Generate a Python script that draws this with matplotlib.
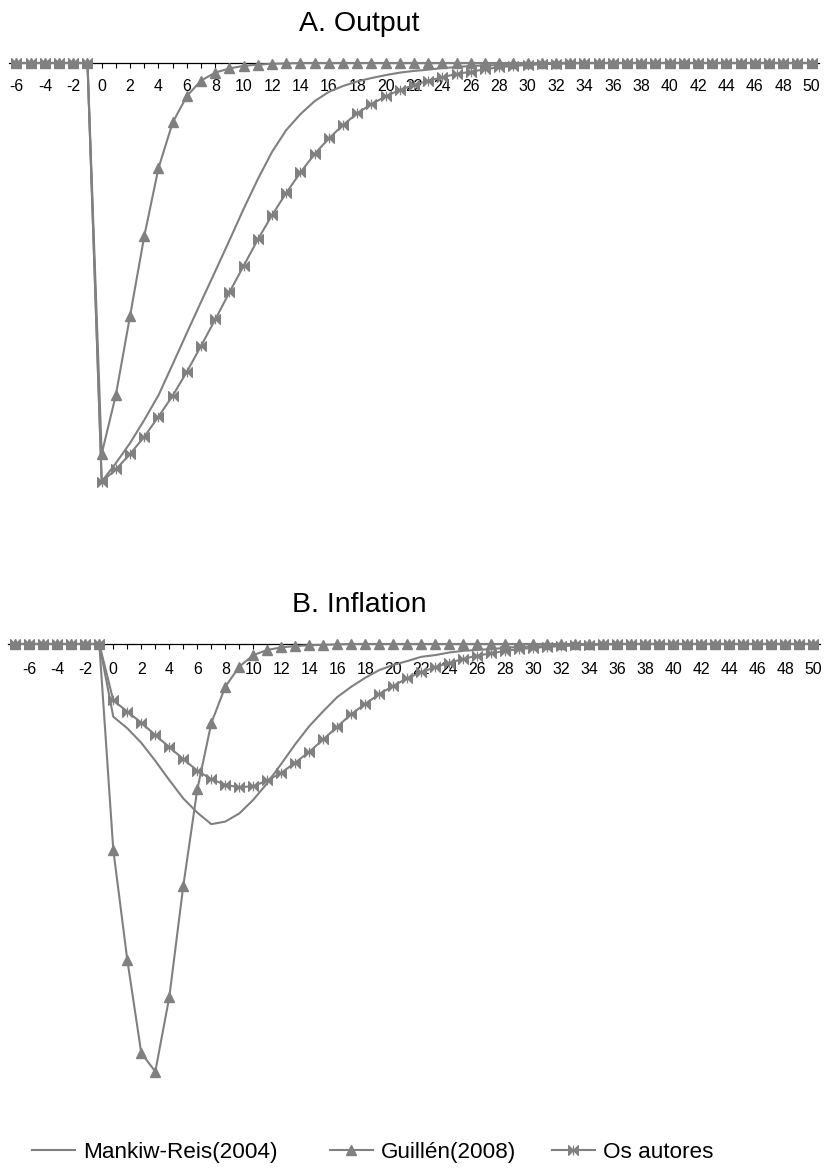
import matplotlib
matplotlib.use("Agg")
import matplotlib.pyplot as plt
from matplotlib.lines import Line2D
from matplotlib.path import Path

plt.rcParams['font.family'] = ['Liberation Sans', 'DejaVu Sans']

# ---------------------------------------------------------------
# Impulse responses (arbitrary units, trough ~ -1)
# values start at period 0; earlier periods are zero
# ---------------------------------------------------------------
periods_out = list(range(-6, 51))
periods_inf = list(range(-7, 51))

out_mankiw = [-0.999, -0.955, -0.907, -0.852, -0.793, -0.719, -0.644, -0.570,
              -0.497, -0.423, -0.348, -0.277, -0.212, -0.160, -0.122, -0.091,
              -0.069, -0.055, -0.044, -0.036, -0.029, -0.023, -0.019, -0.016,
              -0.012, -0.010, -0.007, -0.006, -0.005, -0.004, -0.002, -0.001]
out_guillen = [-0.933, -0.792, -0.603, -0.413, -0.251, -0.142, -0.079, -0.042,
               -0.023, -0.013, -0.007, -0.004, -0.002, -0.001]
out_autores = [-0.999, -0.970, -0.933, -0.892, -0.844, -0.794, -0.737, -0.675,
               -0.612, -0.547, -0.484, -0.421, -0.363, -0.310, -0.261, -0.217,
               -0.180, -0.148, -0.120, -0.098, -0.080, -0.064, -0.053, -0.042,
               -0.034, -0.026, -0.021, -0.015, -0.010, -0.007, -0.005, -0.003,
               -0.002, -0.001]

inf_mankiw = [-0.170, -0.197, -0.231, -0.273, -0.318, -0.361, -0.394, -0.421,
              -0.415, -0.396, -0.364, -0.325, -0.280, -0.234, -0.192, -0.157,
              -0.124, -0.100, -0.079, -0.061, -0.049, -0.040, -0.030, -0.026,
              -0.020, -0.016, -0.014, -0.012, -0.009, -0.007, -0.006, -0.005,
              -0.004, -0.002, -0.002, -0.001]
inf_guillen = [-0.481, -0.738, -0.956, -0.999, -0.825, -0.565, -0.340, -0.185,
               -0.100, -0.053, -0.026, -0.014, -0.008, -0.005, -0.003, -0.002,
               -0.001]
inf_autores = [-0.132, -0.158, -0.184, -0.213, -0.241, -0.269, -0.296, -0.316,
               -0.329, -0.335, -0.332, -0.319, -0.301, -0.277, -0.252, -0.223,
               -0.193, -0.164, -0.140, -0.117, -0.098, -0.080, -0.066, -0.054,
               -0.044, -0.035, -0.027, -0.022, -0.016, -0.012, -0.009, -0.007,
               -0.005, -0.003, -0.002, -0.001]

series_names = ['Mankiw-Reis(2004)', 'Guillén(2008)', 'Os autores']
panel_titles = ['A. Output', 'B. Inflation']


def pad(vals, periods):
    """zeros before the shock and after the response dies out"""
    n_pre = sum(1 for p in periods if p < 0)
    return [0.0] * n_pre + vals + [0.0] * (len(periods) - n_pre - len(vals))


GRAY = '#808080'

# bowtie marker with a centre bar (the 'star' marker of the original)
bowtie = Path([(-1, -1), (-1, 1), (0, 0), (-1, -1),
               (1, -1), (1, 1), (0, 0), (1, -1),
               (0, -1), (0, 1)],
              [Path.MOVETO, Path.LINETO, Path.LINETO, Path.CLOSEPOLY,
               Path.MOVETO, Path.LINETO, Path.LINETO, Path.CLOSEPOLY,
               Path.MOVETO, Path.LINETO])

styles = [dict(marker=None),
          dict(marker='^', markersize=6.8),
          dict(marker=bowtie, markersize=7, markeredgewidth=0.9)]

fig = plt.figure(figsize=(8.28, 11.72), dpi=100)

# axes boxes in figure fractions: [left, bottom, width, height]
ax_top = fig.add_axes([0.01135, 0.5530, 0.9775, 0.40043])
ax_bot = fig.add_axes([0.01002, 0.04881, 0.98068, 0.40905])

panels = [
    (ax_top, periods_out, [out_mankiw, out_guillen, out_autores], 7.7),
    (ax_bot, periods_inf, [inf_mankiw, inf_guillen, inf_autores], 9.4),
]

for ax, periods, data, lpad in panels:
    for vals, st in zip(data, styles):
        ax.plot(periods, pad(vals, periods), color=GRAY, lw=1.5,
                markerfacecolor=GRAY, markeredgecolor=GRAY,
                clip_on=False, zorder=3, **st)
    ax.set_xlim(periods[0] - 0.5, 50.5)
    ax.set_ylim(-1.1, 0.02)
    for side in ['top', 'left', 'right']:
        ax.spines[side].set_visible(False)
    ax.spines['bottom'].set_position(('data', 0))
    ax.spines['bottom'].set_linewidth(0.9)
    ax.set_yticks([])
    ax.set_xticks(periods)
    ax.set_xticklabels([str(p) if p % 2 == 0 else '' for p in periods],
                       fontsize=11.4)
    ax.tick_params(axis='x', direction='out', length=3.6, width=0.8,
                   pad=lpad, colors='black')
    ax.patch.set_visible(False)

fig.text(0.4336, 0.9738, panel_titles[0], fontsize=20.5, ha='center',
         va='baseline')
fig.text(0.4336, 0.4781, panel_titles[1], fontsize=20.5, ha='center',
         va='baseline')

# legend, one entry per box to keep the original spacing
leg_x = [31.7 / 828, 330 / 828, 552 / 828]
for name, st, x0 in zip(series_names, styles, leg_x):
    h = Line2D([], [], color=GRAY, lw=1.5, markerfacecolor=GRAY,
               markeredgecolor=GRAY, **st)
    fig.legend(handles=[h], labels=[name], loc='center left',
               bbox_to_anchor=(x0, 0.0165), frameon=False, fontsize=16.2,
               handlelength=1.91, handletextpad=0.36, borderpad=0,
               borderaxespad=0)

fig.savefig('out.png', dpi=100)
